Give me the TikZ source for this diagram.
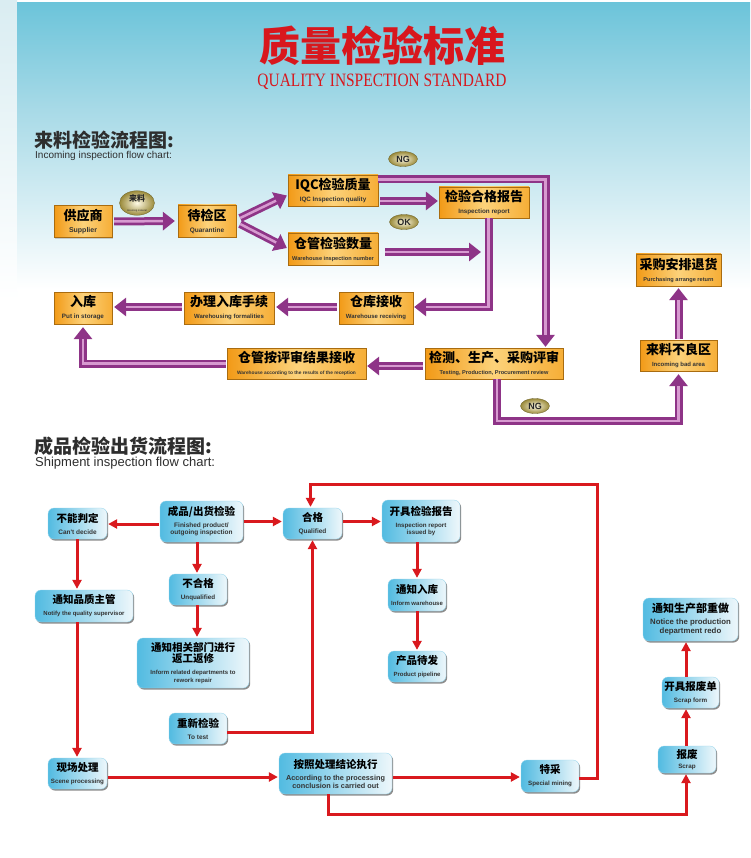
\documentclass[tikz,border=0pt]{standalone}
\usepackage{fontspec}
\usepackage{graphicx}
\setmainfont{Liberation Sans}
\newfontfamily\cjk{Noto Sans CJK SC}
\newfontfamily\enf{Liberation Sans}
\newfontfamily\serf{Liberation Serif}
\usetikzlibrary{arrows.meta,shapes.geometric,shadows,calc}

\definecolor{pdark}{HTML}{8E3487}
\definecolor{plight}{HTML}{D79AD0}
\definecolor{rred}{HTML}{D9191E}
\definecolor{tred}{HTML}{D8171D}
\definecolor{oA}{HTML}{F29A17}
\definecolor{oB}{HTML}{FCD27A}
\definecolor{oC}{HTML}{F6AE37}
\definecolor{bA}{HTML}{52BBE1}
\definecolor{bB}{HTML}{EEF7FB}
\definecolor{skyA}{HTML}{6CC4DA}
\definecolor{skyB}{HTML}{A8DAE7}
\definecolor{goldA}{HTML}{FFFBE6}
\definecolor{goldB}{HTML}{9A8A3A}
\definecolor{hd}{HTML}{2E2E2E}
\definecolor{en}{HTML}{333333}

\newcommand\ocn{\fontsize{13}{13}\selectfont\cjk\bfseries}
\newcommand\bcn{\fontsize{10.5}{13}\selectfont\cjk\bfseries}
\newcommand\oen[1][6]{\fontsize{#1}{13}\selectfont\enf\bfseries\color{en}}

\begin{document}
\begin{tikzpicture}[x=1pt,y=-1pt,
  sz/.style 2 args={minimum width=#1pt, minimum height=#2pt},
  obox/.style={rectangle, draw=oA!70!black, line width=0.3pt, left color=oA, right color=oC, middle color=oB, align=center, inner sep=0pt, text=black, drop shadow={shadow xshift=1.2pt, shadow yshift=-1.2pt, opacity=0.35}},
  bbox/.style={rectangle, rounded corners=6pt, draw=bA!60, line width=0.3pt, left color=bA, right color=bB, align=center, inner sep=0pt, text=black, drop shadow={shadow xshift=1.2pt, shadow yshift=-1.6pt, fill=black!75, opacity=0.6}},
  ell/.style={ellipse, inner sep=0pt, draw=goldB!70!black, line width=0.3pt, inner color=goldA, outer color=goldB, text=black!85, align=center},
  parr/.style={draw=pdark, line width=8pt, line join=miter, -{Triangle[length=12pt,width=18pt]}, postaction={draw=plight, line width=2.5pt, -, shorten >=12pt}},
  rarr/.style={draw=rred, line width=3pt, line join=miter, -{Triangle[length=9pt,width=9pt]}}
]
\useasboundingbox (0,0) rectangle (750,858);
\fill[white] (0,0) rectangle (750,858);
\shade[top color=black!4!skyB!40, bottom color=white] (0,0) rectangle (17,300);
\shade[top color=skyA, bottom color=skyB] (17,3) rectangle (750,110);
\shade[top color=skyB, bottom color=white] (17,110) rectangle (750,290);

% title
\node[text=tred, font=\fontsize{41}{41}\selectfont\cjk\bfseries] (title) at (382,46) {质量检验标准};
\node[text=tred, inner sep=0pt] (sub) at (382,82) {\resizebox{249pt}{12.5pt}{\serf QUALITY INSPECTION STANDARD}};

% headers
\node[anchor=west, inner sep=0pt, text=hd, font=\fontsize{19}{19}\selectfont\cjk\bfseries] (h1) at (34,140) {来料检验流程图:};
\node[anchor=west, inner sep=0pt, text=hd, font=\fontsize{10}{10}\selectfont\enf] (h1e) at (35,156) {Incoming inspection flow chart:};
\node[anchor=west, inner sep=0pt, text=hd, font=\fontsize{19}{19}\selectfont\cjk\bfseries] (h2) at (34,446) {成品检验出货流程图:};
\node[anchor=west, inner sep=0pt, text=hd, font=\fontsize{13}{13}\selectfont\enf] (h2e) at (35,463) {Shipment inspection flow chart:};

% orange boxes
\node[obox, sz={58}{32}] (sup) at (83,221.5) {\ocn 供应商\\\oen[7] Supplier};
\node[obox, sz={58}{32}] (quar) at (207,221) {\ocn 待检区\\\oen[6.5] Quarantine};
\node[obox, sz={90}{31}] (iqc) at (333,190.5) {\ocn IQC检验质量\\\oen[6.3] IQC Inspection quality};
\node[obox, sz={90}{32}] (whn) at (333,249) {\ocn 仓管检验数量\\\oen[5.6] Warehouse inspection number};
\node[obox, sz={90}{31}] (irep) at (484,202.5) {\ocn 检验合格报告\\\oen[6.3] Inspection report};
\node[obox, sz={85}{32}] (pret) at (678.5,270) {\ocn 采购安排退货\\\oen[5.6] Purchasing arrange return};
\node[obox, sz={58}{32}] (stor) at (83,308) {\ocn 入库\\\oen[6.3] Put in storage};
\node[obox, sz={90}{32}] (wfor) at (229,308) {\ocn 办理入库手续\\\oen[6] Warehousing formalities};
\node[obox, sz={74}{32}] (wrec) at (376,308) {\ocn 仓库接收\\\oen[6] Warehouse receiving};
\node[obox, sz={139}{31}] (wacc) at (296.5,363.5) {\ocn 仓管按评审结果接收\\\oen[4.8] Warehouse according to the results of the reception};
\node[obox, sz={138}{31}] (test) at (494,363.5) {\ocn 检测、生产、采购评审\\\oen[5.6] Testing, Production, Procurement review};
\node[obox, sz={77}{31}] (bad) at (678.5,355.5) {\ocn 来料不良区\\\oen[6] Incoming bad area};

% golden labels
\node[ell, minimum width=35pt, minimum height=17pt] (lbl1) at (137,203) {\fontsize{8}{8}\selectfont\cjk\bfseries 来料\\[-2pt]\fontsize{2.5}{8}\selectfont\enf Incoming material};
\node[ell, minimum width=29pt, minimum height=15pt] (ng1) at (403,159) {\fontsize{9}{9}\selectfont\enf\bfseries NG};
\node[ell, minimum width=29pt, minimum height=15pt] (ok1) at (404,222) {\fontsize{9}{9}\selectfont\enf\bfseries OK};
\node[ell, minimum width=29pt, minimum height=15pt] (ng2) at (535,406) {\fontsize{9}{9}\selectfont\enf\bfseries NG};

% purple arrows
\draw[parr] ($(sup.east)+(2,0)$) -- ($(quar.west)+(-3,0)$);
\draw[parr] ($(quar.east)+(4,-3)$) -- ($(iqc.west)+(-1,5)$);
\draw[parr] ($(quar.east)+(4,3)$) -- ($(whn.west)+(-1,-1)$);
\draw[parr] ($(iqc.east)+(2,10.5)$) -- ($(irep.west)+(-1,-1.5)$);
\draw[parr] ($(iqc.east)+(0,-11)$) -| ($(test.north)+(51.5,-1)$);
\draw[parr] ($(whn.east)+(7,3)$) -- ($(irep.south |- whn.east)+(-3,3)$);
\draw[parr] ($(irep.south)+(4.5,0)$) |- ($(wrec.east)+(1,-1)$);
\draw[parr] ($(wrec.west)+(-2,-1)$) -- ($(wfor.east)+(2,-1)$);
\draw[parr] ($(wfor.west)+(-2,-1)$) -- ($(stor.east)+(2,-1)$);
\draw[parr] ($(test.west)+(-2,2.5)$) -- ($(wacc.east)+(1,2.5)$);
\draw[parr] ($(wacc.west)+(-1,0)$) -| ($(stor.south)+(0,3)$);
\draw[parr] ($(test.south)+(3,0)$) -- ++(0,42) -| ($(bad.south)+(0,3)$);
\draw[parr] ($(bad.north)+(0,-1)$) -- ($(pret.south)+(0,2)$);

% blue boxes
\node[bbox, sz={83}{41}] (fin) at (201.5,521.5) {\bcn 成品/出货检验\\\oen[6.5] Finished product/\\[-5pt]\oen[6.5] outgoing inspection};
\node[bbox, sz={59}{31}] (cant) at (77.5,523.5) {\bcn 不能判定\\\oen[6.5] Can't decide};
\node[bbox, sz={59}{31}] (qual) at (312.5,523.5) {\bcn 合格\\\oen[6.5] Qualified};
\node[bbox, sz={78}{42}] (rep) at (421,521) {\bcn 开具检验报告\\\oen[6.2] Inspection report\\[-5pt]\oen[6.2] issued by};
\node[bbox, sz={58}{32}] (infw) at (417,595) {\bcn 通知入库\\\oen[6] Inform warehouse};
\node[bbox, sz={58}{31}] (pipe) at (417,666.5) {\bcn 产品待发\\\oen[6] Product pipeline};
\node[bbox, sz={58}{31}] (unq) at (198,589.5) {\bcn 不合格\\\oen[6.3] Unqualified};
\node[bbox, sz={98}{32}] (noti) at (84,606) {\bcn 通知品质主管\\\oen[6] Notify the quality supervisor};
\node[bbox, sz={112}{50}] (infr) at (193,663) {\bcn 通知相关部门进行\\[-1pt]\bcn 返工返修\\\oen[6] Inform related departments to\\[-4pt]\oen[6] rework repair};
\node[bbox, sz={58}{31}] (retest) at (198,728.5) {\bcn 重新检验\\\oen[6.5] To test};
\node[bbox, sz={59}{31}] (scene) at (77.5,773.5) {\bcn 现场处理\\\oen[6.2] Scene processing};
\node[bbox, sz={113}{41}] (acc) at (335.5,773.5) {\bcn 按照处理结论执行\\\oen[7.3] According to the processing\\[-4pt]\oen[7.3] conclusion is carried out};
\node[bbox, sz={58}{32}] (spec) at (550,776) {\bcn 特采\\\oen[6.2] Special mining};
\node[bbox, sz={58}{27}] (scrap) at (687,759.5) {\bcn 报废\\[-2pt]\oen[6.3] Scrap};
\node[bbox, sz={57}{31}] (sform) at (690.5,692.5) {\bcn 开具报废单\\\oen[6.3] Scrap form};
\node[bbox, sz={95}{43}] (redo) at (690.5,619.5) {\fontsize{11}{13}\selectfont\cjk\bfseries 通知生产部重做\\\oen[7.8] Notice the production\\[-3pt]\oen[7.8] department redo};

% red arrows
\draw[rarr] ($(fin.west)+(-1,2.5)$) -- ($(cant.east)+(1,0.5)$);
\draw[rarr] ($(fin.east)+(1,0)$) -- ($(qual.west)+(-1,-2)$);
\draw[rarr] ($(qual.east)+(1,-2)$) -- ($(rep.west)+(-1,0.5)$);
\draw[rarr] ($(fin.south)+(-4.5,0)$) -- ($(unq.north)+(-1,-1)$);
\draw[rarr] ($(cant.south)+(-0.5,0)$) -- ($(noti.north)+(-7,-1)$);
\draw[rarr] ($(unq.south)+(-1,0)$) -- ($(infr.north)+(4,-1)$);
\draw[rarr] ($(noti.south)+(-7,0)$) -- ($(scene.north)+(-0.5,-1)$);
\draw[rarr] ($(rep.south)+(-4,0)$) -- ($(infw.north)+(0,-1)$);
\draw[rarr] (infw.south) -- ($(pipe.north)+(0,-1)$);
\draw[rarr] ($(retest.east)+(0,3.5)$) -| ($(qual.south)+(0,1)$);
\draw[rarr] ($(scene.east)+(1,3.5)$) -- ($(acc.west)+(-1,3.5)$);
\draw[rarr] ($(acc.east)+(1,3.5)$) -- ($(spec.west)+(-1,1)$);
\draw[rarr] ($(spec.east)+(0,2)$) -- ++(18,0) |- ($(qual.north)+(-2,-23)$) -- ($(qual.north)+(-2,-1)$);
\draw[rarr] ($(acc.south)+(-7.5,0)$) -- ++(0,20) -| ($(scrap.south)+(-1,1)$);
\draw[rarr] ($(scrap.north)+(-1,0)$) -- ($(sform.south)+(-4.5,1)$);
\draw[rarr] ($(sform.north)+(-4.5,0)$) -- ($(redo.south)+(-4.5,1)$);
\end{tikzpicture}
\end{document}
